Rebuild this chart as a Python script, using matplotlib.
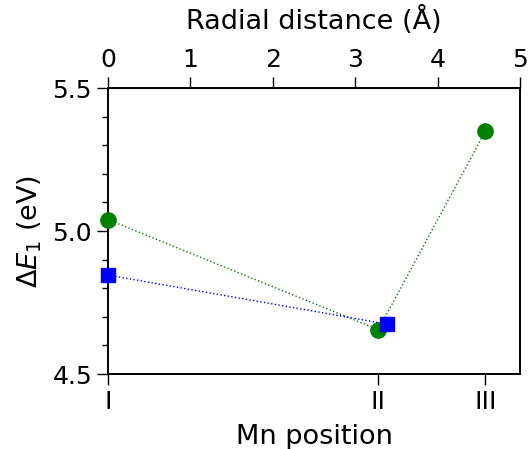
import matplotlib.pyplot as plt
from matplotlib.ticker import MultipleLocator

plt.rcParams['font.family'] = ['DejaVu Sans']
plt.rcParams['mathtext.fontset'] = 'dejavusans'

# radial distance (Angstrom) of each Mn position
pos_x = [0.0, 3.28, 4.58]
pos_labels = ['I', 'II', 'III']

green_x = [0.0, 3.28, 4.58]
green_y = [5.04, 4.655, 5.35]

blue_x = [0.0, 3.38]
blue_y = [4.846, 4.675]

fig = plt.figure(figsize=(5.28, 4.49), dpi=100)
ax = fig.add_axes([0.2045, 0.167, 0.7805, 0.637])

ax.plot(green_x, green_y, linestyle=':', color='green', linewidth=1,
        marker='o', markersize=11, clip_on=False, zorder=3)
ax.plot(blue_x, blue_y, linestyle=':', color='blue', linewidth=1,
        marker='s', markersize=9.5, clip_on=False, zorder=4)

ax.set_xlim(0, 5)
ax.set_ylim(4.5, 5.5)

ax.set_xticks(pos_x)
ax.set_xticklabels(pos_labels)
ax.set_xlabel('Mn position', fontsize=19.5, labelpad=7)

ax.yaxis.set_major_locator(MultipleLocator(0.5))
ax.yaxis.set_minor_locator(MultipleLocator(0.1))
ax.yaxis.set_major_formatter(lambda v, p: f'{v:.1f}')
ax.set_ylabel(r'$\Delta E_1$ (eV)', fontsize=19.5, labelpad=6)

ax.tick_params(axis='both', which='major', labelsize=18, direction='out',
               length=8, width=1)
ax.tick_params(axis='y', which='minor', direction='out', length=4, width=1)

top = ax.secondary_xaxis('top')
top.set_xticks([0, 1, 2, 3, 4, 5])
top.tick_params(labelsize=18, direction='out', length=8, width=1)
top.set_xlabel('Radial distance (Å)', fontsize=19.5, labelpad=14)

for s in ax.spines.values():
    s.set_linewidth(1.4)

plt.savefig('out.png', dpi=100)
